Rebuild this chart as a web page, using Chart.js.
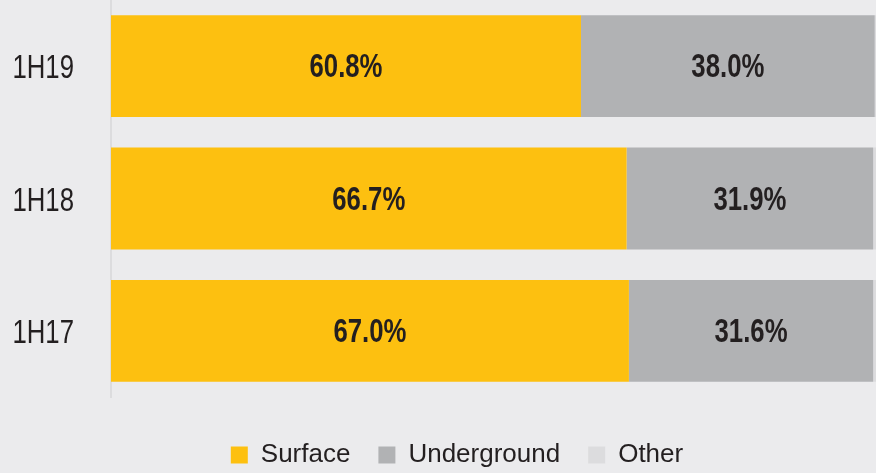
<!DOCTYPE html>
<html>
<head>
<meta charset="utf-8">
<script src="https://cdn.jsdelivr.net/npm/chart.js@4.4.0/dist/chart.umd.min.js"></script>
<style>
  html, body { margin: 0; padding: 0; background: #ebebed; overflow: hidden; }
  #wrap { width: 900px; height: 473px; }
</style>
</head>
<body>
<div id="wrap"><canvas id="mix_chart" width="900" height="473"></canvas></div>
<script>
var periods = ['1H19', '1H18', '1H17'];
var surface = [60.8, 66.7, 67.0];
var underground = [38.0, 31.9, 31.6];
var other = [1.2, 1.4, 1.4];

var bar_colours = ['#fdc010', '#b1b2b4', '#dcdcde'];
var font_family = '"Liberation Sans", Arial, sans-serif';
var squeeze = 0.78; // the original uses a narrow face, fake it

function narrowText(ctx, text, x, y) {
	ctx.save();
	ctx.translate(x, y);
	ctx.scale(squeeze, 1);
	ctx.fillText(text, 0, 0);
	ctx.restore();
}

// % values in the middle of the surface / underground segments, plus the period labels
var barText = {
	id: 'barText',
	beforeDraw: function(chart) {
		// push legend a bit right so it sits where the original one is
		if (!chart.legend._moved) {
			chart.legend.left += 30;
			chart.legend._moved = true;
		}
	},
	afterDatasetsDraw: function(chart) {
		var ctx = chart.ctx;
		ctx.save();
		ctx.fillStyle = '#231f20';
		ctx.textBaseline = 'middle';

		ctx.font = 'bold 33px ' + font_family;
		ctx.textAlign = 'center';
		[0, 1].forEach(function(d) {
			var ds = chart.data.datasets[d];
			chart.getDatasetMeta(d).data.forEach(function(bar, i) {
				narrowText(ctx, ds.data[i].toFixed(1) + '%', (bar.x + bar.base) / 2, bar.y + 2);
			});
		});

		ctx.font = '33px ' + font_family;
		ctx.textAlign = 'right';
		var yScale = chart.scales.y;
		periods.forEach(function(p, i) {
			narrowText(ctx, p, 74, yScale.getPixelForValue(i) + 3);
		});
		ctx.restore();
	}
};

var mixChart = new Chart(document.getElementById('mix_chart').getContext('2d'), {
	type: 'bar',
	plugins: [barText],
	data: {
		labels: periods,
		datasets: [
			{ label: 'Surface', data: surface, backgroundColor: bar_colours[0] },
			{ label: 'Underground', data: underground, backgroundColor: bar_colours[1] },
			{ label: 'Other', data: other, backgroundColor: bar_colours[2] }
		]
	},
	options: {
		indexAxis: 'y',
		responsive: false,
		animation: false,
		barPercentage: 0.77,
		categoryPercentage: 1,
		layout: { padding: { left: 0, right: 16, top: 0, bottom: 0 } },
		scales: {
			x: {
				stacked: true, min: 0, max: 100,
				grid: { display: false },
				border: { display: false },
				ticks: { display: false },
				afterFit: function(s) { s.height = 17; }
			},
			y: {
				stacked: true,
				grid: { display: false, drawTicks: false },
				border: { display: true, color: '#dcdcde', width: 2 },
				ticks: { display: false },
				afterFit: function(s) { s.width = 111; s.paddingTop = 0; s.paddingBottom = 0; }
			}
		},
		plugins: {
			tooltip: { enabled: false },
			legend: {
				position: 'bottom',
				maxHeight: 59,
				labels: {
					boxWidth: 17, boxHeight: 17, padding: 28,
					color: '#231f20',
					font: { family: font_family, size: 26 }
				}
			}
		}
	}
});
</script>
</body>
</html>
